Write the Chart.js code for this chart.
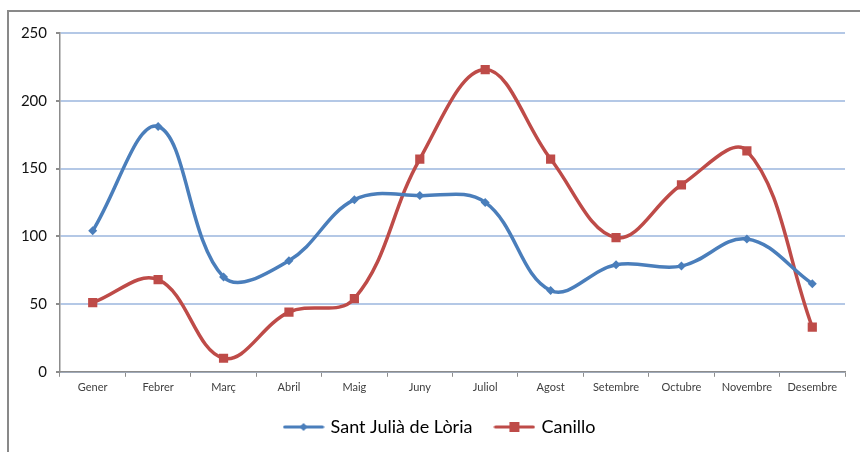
<!DOCTYPE html>
<html>
<head>
<meta charset="utf-8">
<script src="https://cdn.jsdelivr.net/npm/chart.js@4.4.0/dist/chart.umd.min.js"></script>
<style>
  html, body { margin: 0; padding: 0; background: #fff; }
  #wrap { position: relative; width: 860px; height: 452px; overflow: hidden; }
  #frame { position: absolute; left: 7px; top: 10px; width: 900px; height: 500px;
           border-top: 2px solid #898989; border-left: 2px solid #898989; }
  canvas { position: absolute; left: 0; top: 0; }
</style>
</head>
<body>
<div id="wrap">
  <div id="frame"></div>
  <canvas id="chart" width="860" height="452"></canvas>
</div>
<script>
var months = ['Gener', 'Febrer', 'Març', 'Abril', 'Maig', 'Juny', 'Juliol', 'Agost', 'Setembre', 'Octubre', 'Novembre', 'Desembre'];
var santJulia = [104, 181, 70, 82, 127, 130, 125, 60, 79, 78, 98, 65];
var canillo = [51, 68, 10, 44, 54, 157, 223, 157, 99, 138, 163, 33];
var yTicks = [0, 50, 100, 150, 200, 250];

var blue = '#4a7ebb';
var red = '#be4b48';

// little legend icon: line with the marker in the middle
function legendIcon(color, shape) {
    var c = document.createElement('canvas');
    c.width = 42; c.height = 14;
    var g = c.getContext('2d');
    g.strokeStyle = color;
    g.lineWidth = 3;
    g.lineCap = 'round';
    g.beginPath(); g.moveTo(2, 7); g.lineTo(40, 7); g.stroke();
    g.fillStyle = color;
    if (shape === 'diamond') {
        g.beginPath(); g.moveTo(21, 3); g.lineTo(25, 7); g.lineTo(21, 11); g.lineTo(17, 7); g.closePath(); g.fill();
    } else {
        g.fillRect(16, 2, 10, 10);
    }
    return c;
}

// nudge the legend: a bit up, and centred like the original
var legendShift = {
    id: 'legendShift',
    afterLayout: function (ch) {
        ch.legend.top -= 4;
        ch.legend.bottom -= 4;
        ch.legend.left += 18;
        ch.legend.right += 18;
    }
};

var ctx = document.getElementById('chart').getContext('2d');
var chart = new Chart(ctx, {
    type: 'line',
    data: {
        labels: months,
        datasets: [
            {
                label: 'Sant Julià de Lòria',
                data: santJulia,
                borderColor: blue,
                backgroundColor: blue,
                borderWidth: 3.5,
                pointStyle: 'rectRot',
                pointRadius: 4.5,
                pointBorderWidth: 0,
                tension: 0.38
            },
            {
                label: 'Canillo',
                data: canillo,
                borderColor: red,
                backgroundColor: red,
                borderWidth: 3.5,
                pointStyle: 'rect',
                pointRadius: 6.5,
                pointBorderWidth: 0,
                tension: 0.38
            }
        ]
    },
    plugins: [legendShift],
    options: {
        responsive: false,
        animation: false,
        layout: { padding: { top: 33, right: 15, left: 0, bottom: 2 } },
        plugins: {
            tooltip: { enabled: false },
            legend: {
                position: 'bottom',
                labels: {
                    usePointStyle: true,
                    pointStyleWidth: 36,
                    padding: 24,
                    color: '#1a1a1a',
                    font: { family: 'Lato', size: 18 },
                    generateLabels: function (ch) {
                        var icons = [legendIcon(blue, 'diamond'), legendIcon(red, 'square')];
                        return ch.data.datasets.map(function (ds, i) {
                            return {
                                text: ds.label,
                                pointStyle: icons[i],
                                fillStyle: ds.borderColor,
                                strokeStyle: ds.borderColor,
                                lineWidth: 0,
                                datasetIndex: i,
                                hidden: false
                            };
                        });
                    }
                }
            }
        },
        scales: {
            x: {
                offset: true,
                grid: { offset: true, drawOnChartArea: false, color: '#8c8c8c', tickLength: 5 },
                border: { color: '#8c8c8c', width: 1.5 },
                ticks: { color: '#404040', font: { family: 'Lato', size: 11 }, padding: 4, maxRotation: 0 }
            },
            y: {
                min: 0,
                max: 250,
                afterFit: function (s) { s.width = 60; },
                afterBuildTicks: function (s) { s.ticks = yTicks.map(function (v) { return { value: v }; }); },
                grid: { color: '#b4c8e6', lineWidth: 2, tickColor: '#8c8c8c', tickLength: 4 },
                border: { color: '#8c8c8c', width: 1.5 },
                ticks: { color: '#111', font: { family: 'Lato', size: 15 }, padding: 9 }
            }
        }
    }
});
</script>
</body>
</html>
